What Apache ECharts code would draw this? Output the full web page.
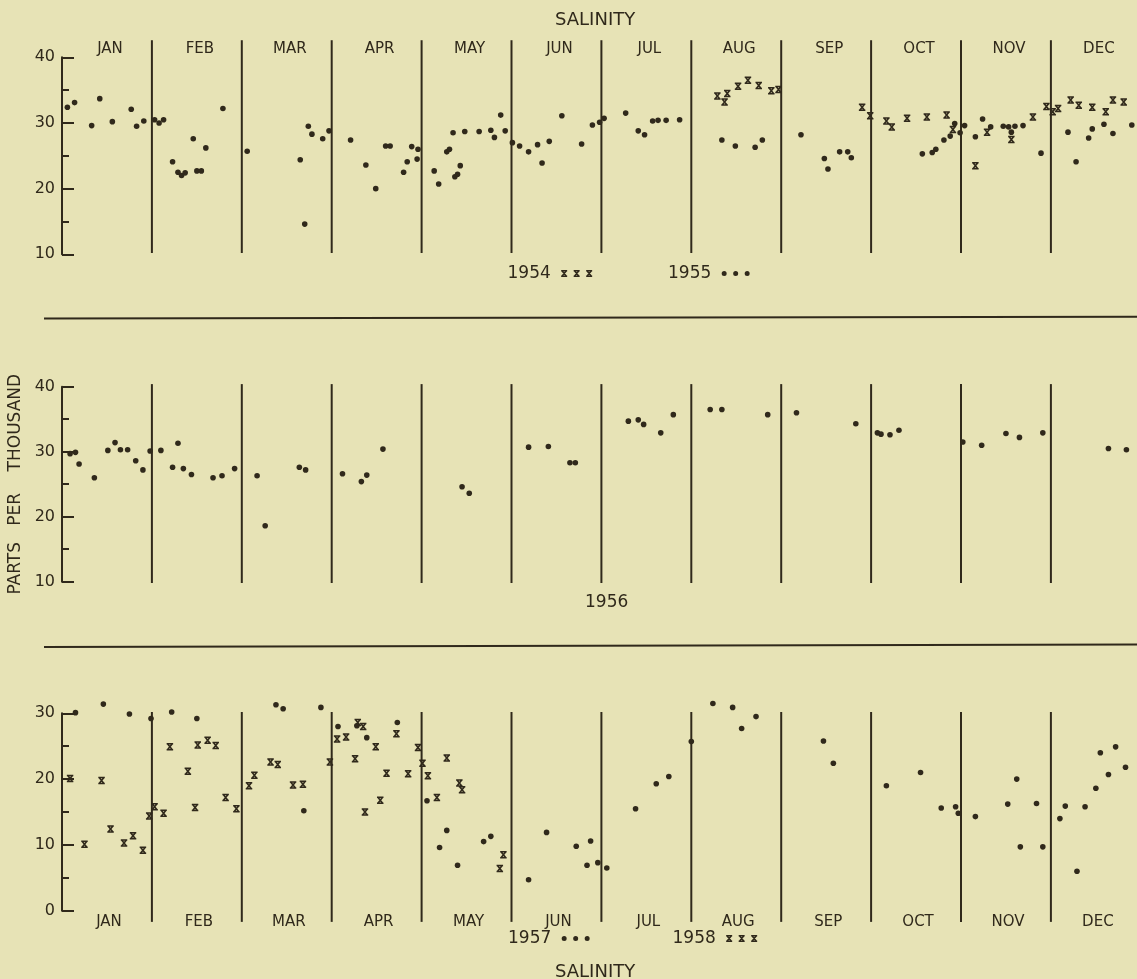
<!DOCTYPE html>
<html>
<head>
<meta charset="utf-8">
<script src="https://cdn.jsdelivr.net/npm/echarts@6/dist/echarts.min.js"></script>
<style>
html,body{margin:0;padding:0;background:#e7e3b6;}
#c{width:1137px;height:979px;}
</style>
</head>
<body>
<div id="c"></div>
<script>
// ---------- DATA (x = position in year in month units: 0 = start of Jan, 12 = end of Dec) ----------
const months = ['JAN','FEB','MAR','APR','MAY','JUN','JUL','AUG','SEP','OCT','NOV','DEC'];
const monthEdges = [1,2,3,4,5,6,7,8,9,10,11];
const yTicksTop = [10, 40];      // panel 1 & 2 salinity range
const yTicksBottom = [0, 30];    // panel 3 salinity range

// Panel 1 : 1954 (crosses)
const s1954 = [
 [7.29,34.1],[7.37,33.2],[7.40,34.5],[7.52,35.6],[7.63,36.5],[7.75,35.7],[7.89,34.9],[7.97,35.1],
 [8.90,32.4],[8.99,31.1],
 [9.17,30.3],[9.23,29.4],[9.40,30.7],[9.62,30.9],[9.84,31.2],[9.91,29.0],
 [10.16,23.5],[10.29,28.6],[10.56,27.5],[10.80,30.9],[10.95,32.5],
 [11.02,31.7],[11.08,32.2],[11.22,33.5],[11.31,32.7],[11.46,32.4],[11.61,31.7],[11.69,33.5],[11.81,33.2]
];
// Panel 1 : 1955 (dots)
const s1955 = [
 [0.06,32.4],[0.14,33.1],[0.33,29.6],[0.42,33.7],[0.56,30.2],[0.77,32.1],[0.83,29.5],[0.91,30.3],
 [1.03,30.5],[1.08,30.0],[1.13,30.5],[1.23,24.1],[1.29,22.5],[1.33,22.0],[1.37,22.4],[1.46,27.6],[1.50,22.7],[1.55,22.7],[1.60,26.2],[1.79,32.2],
 [2.06,25.7],[2.65,24.4],[2.70,14.6],[2.74,29.5],[2.78,28.3],[2.90,27.6],[2.97,28.8],
 [3.21,27.4],[3.38,23.6],[3.49,20.0],[3.60,26.5],[3.65,26.5],[3.80,22.5],[3.84,24.1],[3.89,26.4],[3.95,24.5],[3.96,26.0],
 [4.14,22.7],[4.19,20.7],[4.28,25.6],[4.31,26.0],[4.35,28.5],[4.37,21.8],[4.40,22.2],[4.43,23.5],[4.48,28.7],[4.64,28.7],[4.77,28.9],[4.81,27.8],[4.88,31.2],[4.93,28.8],
 [5.01,27.0],[5.09,26.5],[5.19,25.6],[5.29,26.7],[5.34,23.9],[5.42,27.2],[5.56,31.1],[5.78,26.8],[5.90,29.7],[5.98,30.1],
 [6.03,30.7],[6.27,31.5],[6.41,28.8],[6.48,28.2],[6.57,30.3],[6.63,30.4],[6.72,30.4],[6.87,30.5],
 [7.34,27.4],[7.49,26.5],[7.71,26.3],[7.79,27.4],
 [8.22,28.2],[8.48,24.6],[8.52,23.0],[8.65,25.6],[8.74,25.6],[8.78,24.7],
 [9.57,25.3],[9.68,25.5],[9.72,26.0],[9.81,27.4],[9.88,28.0],[9.93,29.9],[9.99,28.5],
 [10.04,29.6],[10.16,27.9],[10.24,30.6],[10.33,29.4],[10.47,29.5],[10.53,29.4],[10.56,28.6],[10.60,29.5],[10.69,29.6],[10.89,25.4],
 [11.19,28.6],[11.28,24.1],[11.42,27.7],[11.46,29.1],[11.59,29.8],[11.69,28.4],[11.90,29.7]
];
// Panel 2 : 1956 (dots)
const s1956 = [
 [0.09,29.7],[0.15,29.9],[0.19,28.1],[0.36,26.0],[0.51,30.2],[0.59,31.4],[0.65,30.3],[0.73,30.3],[0.82,28.6],[0.90,27.2],[0.98,30.1],
 [1.10,30.2],[1.23,27.6],[1.29,31.3],[1.35,27.4],[1.44,26.5],[1.68,26.0],[1.78,26.3],[1.92,27.4],
 [2.17,26.3],[2.26,18.6],[2.64,27.6],[2.71,27.2],
 [3.12,26.6],[3.33,25.4],[3.39,26.4],[3.57,30.4],
 [4.45,24.6],[4.53,23.6],
 [5.19,30.7],[5.41,30.8],[5.65,28.3],[5.71,28.3],
 [6.30,34.7],[6.41,34.9],[6.47,34.2],[6.66,32.9],[6.80,35.7],
 [7.21,36.5],[7.34,36.5],[7.85,35.7],
 [8.17,36.0],[8.83,34.3],
 [9.07,32.9],[9.11,32.7],[9.21,32.6],[9.31,33.3],
 [10.02,31.5],[10.23,31.0],[10.50,32.8],[10.65,32.2],[10.91,32.9],
 [11.64,30.5],[11.84,30.3]
];
// Panel 3 : 1957 (dots)
const s1957 = [
 [0.15,30.1],[0.46,31.4],[0.75,29.9],[0.99,29.2],
 [1.22,30.2],[1.50,29.2],
 [2.38,31.3],[2.46,30.7],[2.69,15.2],[2.88,30.9],
 [3.07,28.0],[3.28,28.1],[3.39,26.3],[3.73,28.6],
 [4.06,16.7],[4.20,9.6],[4.28,12.2],[4.40,6.9],[4.69,10.5],[4.77,11.3],
 [5.19,4.7],[5.39,11.9],[5.72,9.8],[5.84,6.9],[5.88,10.6],[5.96,7.3],
 [6.06,6.5],[6.38,15.5],[6.61,19.3],[6.75,20.4],
 [7.00,25.7],[7.24,31.5],[7.46,30.9],[7.56,27.7],[7.72,29.5],
 [8.47,25.8],[8.58,22.4],
 [9.17,19.0],[9.55,21.0],[9.78,15.6],[9.94,15.8],[9.97,14.8],
 [10.16,14.3],[10.52,16.2],[10.62,20.0],[10.66,9.7],[10.84,16.3],[10.91,9.7],
 [11.10,14.0],[11.16,15.9],[11.29,6.0],[11.38,15.8],[11.50,18.6],[11.55,24.0],[11.64,20.7],[11.72,24.9],[11.83,21.8]
];
// Panel 3 : 1958 (crosses)
const s1958 = [
 [0.09,20.1],[0.25,10.1],[0.44,19.8],[0.54,12.4],[0.69,10.3],[0.79,11.4],[0.90,9.2],[0.97,14.4],
 [1.03,15.8],[1.13,14.8],[1.20,24.9],[1.40,21.2],[1.48,15.7],[1.51,25.2],[1.62,25.9],[1.71,25.1],[1.82,17.2],[1.94,15.5],
 [2.08,19.0],[2.14,20.6],[2.32,22.6],[2.40,22.2],[2.57,19.1],[2.68,19.2],[2.98,22.6],
 [3.06,26.1],[3.16,26.4],[3.26,23.1],[3.29,28.6],[3.35,28.0],[3.37,15.0],[3.49,24.9],[3.54,16.8],[3.61,20.9],[3.72,26.9],[3.85,20.8],[3.96,24.8],
 [4.01,22.4],[4.07,20.5],[4.17,17.2],[4.28,23.2],[4.42,19.4],[4.45,18.4],[4.87,6.4],[4.91,8.5]
];

// ---------- STYLE ----------
const INK = '#30291b';
const FONT = "'DejaVu Sans', sans-serif";
function crossAt(o){
  // bold "x" with short top/bottom bars, in a 6 x 7 box
  return 'M'+o+',0 L'+(o+6)+',0 L'+(o+6)+',1.4 L'+o+',1.4 Z M'+o+',5.6 L'+(o+6)+',5.6 L'+(o+6)+',7 L'+o+',7 Z '+
         'M'+(o+0.4)+',1.4 L'+(o+2.3)+',1.4 L'+(o+5.6)+',5.6 L'+(o+3.7)+',5.6 Z M'+(o+3.7)+',1.4 L'+(o+5.6)+',1.4 L'+(o+2.3)+',5.6 L'+(o+0.4)+',5.6 Z ';
}
const CROSS = 'path://' + crossAt(0);
const CROSS3 = 'path://' + crossAt(0) + crossAt(12.5) + crossAt(25);
function dotAt(c){ return 'M'+(c-2.5)+',2.5 A2.5,2.5 0 1,0 '+(c+2.5)+',2.5 A2.5,2.5 0 1,0 '+(c-2.5)+',2.5 Z '; }
const DOT3 = 'path://' + dotAt(2.5) + dotAt(14) + dotAt(25.5);

const GL = 62, GW = 1078.8;
const grids = [
  {left:GL, top:57.3, width:GW, height:197, outerBoundsMode:'none'},
  {left:GL, top:386.7, width:GW, height:195, outerBoundsMode:'none'},
  {left:GL, top:713.3, width:GW, height:197.4, outerBoundsMode:'none'}
];

function xVal(g){ return {type:'value', gridIndex:g, min:0, max:12, show:false}; }
function xCat(g, pos, margin, pad){
  return {type:'category', gridIndex:g, position:pos, data:months, boundaryGap:true,
    axisLine:{show:false}, axisTick:{show:false}, splitLine:{show:false},
    axisLabel:{interval:0, margin:margin, color:INK, fontSize:15, fontFamily:FONT, padding:[0,0,0,pad]}};
}
function yAx(g, range, extra){
  return Object.assign({
    type:'value', gridIndex:g, min:range[0], max:range[1], interval:10,
    axisLine:{show:true, onZero:false, lineStyle:{color:INK, width:2}},
    axisTick:{show:true, inside:true, length:12, lineStyle:{color:INK, width:2}},
    minorTick:{show:true, splitNumber:2, length:7, lineStyle:{color:INK, width:2}},
    splitLine:{show:false}, minorSplitLine:{show:false},
    axisLabel:{color:INK, fontSize:16, fontFamily:FONT, margin:7}
  }, extra || {});
}
function scatter(name, data, xi, yi, cross){
  return {type:'scatter', name:name, data:data, xAxisIndex:xi, yAxisIndex:yi, clip:false, silent:true,
    symbol: cross ? CROSS : 'circle', symbolSize: cross ? [6.5,7.5] : 5.6,
    itemStyle:{color:INK, opacity:1}, z:3};
}
function dividers(xi, yi, lo, hi){
  return {type:'custom', xAxisIndex:xi, yAxisIndex:yi, clip:false, silent:true, z:2,
    data: monthEdges.map(function(u){ return [u, lo]; }),
    renderItem: function(params, api){
      const a = api.coord([api.value(0), lo]);
      const b = api.coord([api.value(0), hi]);
      return {type:'line', shape:{x1:a[0], y1:a[1], x2:b[0], y2:b[1]}, style:{stroke:INK, lineWidth:2}};
    }};
}
function legendOne(name, icon, left, top, w, h){
  return {show:true, data:[{name:name, icon:icon}], left:left, top:top, padding:0, align:'right',
    itemWidth:w, itemHeight:h, selectedMode:false, formatter:'{name} ',
    textStyle:{color:INK, fontSize:17, fontFamily:FONT}};
}
function titleText(text, left, top, size){
  return {text:text, left:left, top:top, padding:0,
    textStyle:{color:INK, fontSize:size, fontWeight:'normal', fontFamily:FONT}};
}

const option = {
  animation:false,
  backgroundColor:'#e7e3b6',
  textStyle:{fontFamily:FONT, color:INK},
  title:[
    titleText('SALINITY', 555, 11.5, 18),
    titleText('1956', 585, 594.5, 17),
    titleText('SALINITY', 555, 963, 18)
  ],
  legend:[
    legendOne('1954', CROSS3, 507.5, 265, 31, 7),
    legendOne('1955', DOT3, 668, 265, 28, 5),
    legendOne('1957', DOT3, 508, 930, 28, 5),
    legendOne('1958', CROSS3, 672.5, 930, 31, 7)
  ],
  grid:grids,
  xAxis:[ xVal(0), xCat(0,'top',1,6), xVal(1), xVal(2), xCat(2,'bottom',4,4) ],
  yAxis:[
    yAx(0, yTicksTop),
    yAx(1, yTicksTop, {name:'PARTS   PER    THOUSAND', nameLocation:'middle', nameRotate:90, nameGap:33,
       nameTextStyle:{color:INK, fontSize:17, fontFamily:FONT}}),
    yAx(2, yTicksBottom)
  ],
  graphic:[
    {type:'line', shape:{x1:44, y1:318.5, x2:1137, y2:316.8}, style:{stroke:INK, lineWidth:2}, silent:true},
    {type:'line', shape:{x1:44, y1:647, x2:1137, y2:644.5}, style:{stroke:INK, lineWidth:2}, silent:true}
  ],
  series:[
    dividers(0, 0, 10.2, 42.6),
    scatter('1954', s1954, 0, 0, true),
    scatter('1955', s1955, 0, 0, false),
    dividers(2, 1, 9.8, 40.4),
    scatter('1956', s1956, 2, 1, false),
    dividers(3, 2, -1.7, 30.2),
    scatter('1957', s1957, 3, 2, false),
    scatter('1958', s1958, 3, 2, true)
  ]
};
const chart = echarts.init(document.getElementById('c'), null, {renderer:'canvas', width:1137, height:979});
chart.setOption(option);
</script>
</body>
</html>
